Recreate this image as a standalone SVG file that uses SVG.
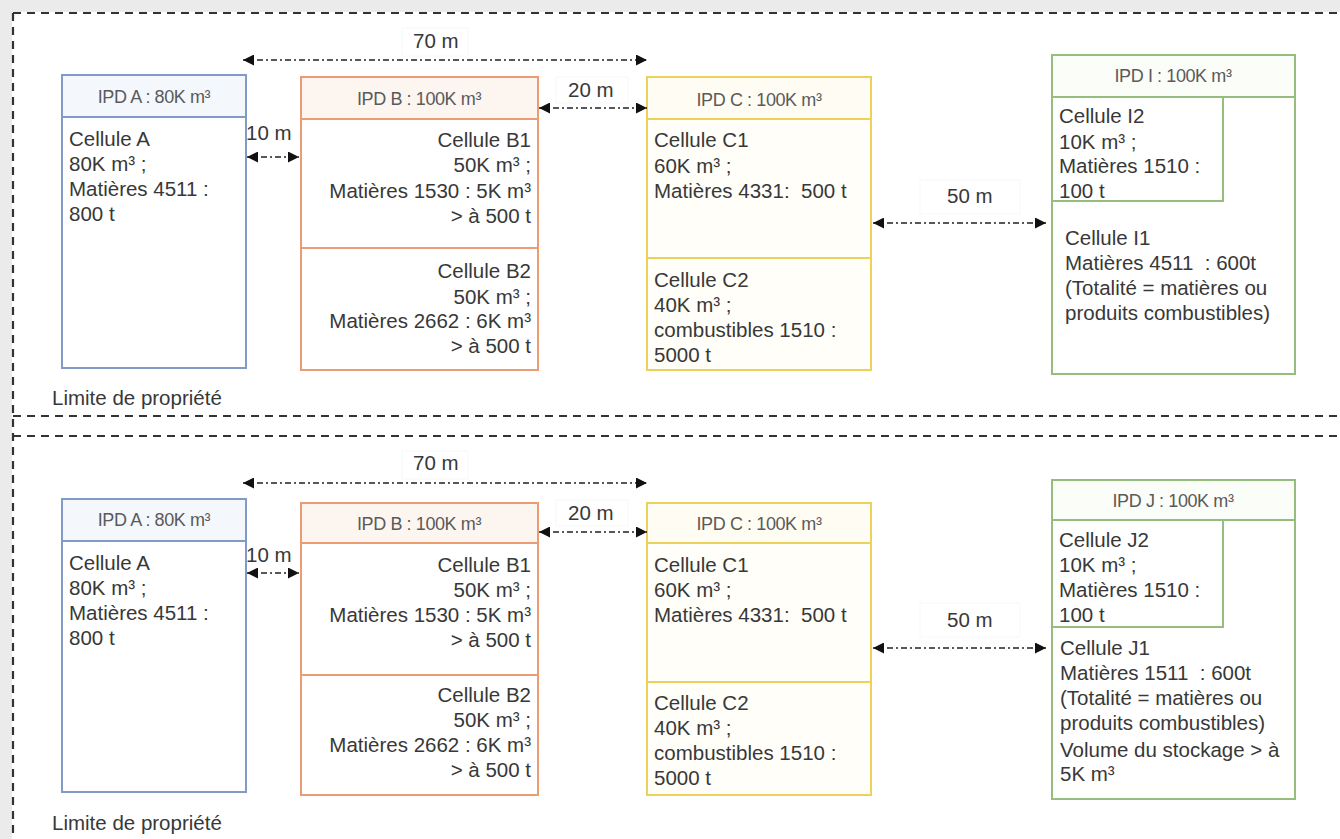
<svg xmlns="http://www.w3.org/2000/svg" width="1340" height="839" viewBox="0 0 1340 839">
<style>
.t{font-family:"Liberation Sans",Arial,sans-serif;font-size:20.5px;fill:#383838;white-space:pre}
.h{font-family:"Liberation Sans",Arial,sans-serif;font-size:18px;fill:#5a5a5a;text-anchor:middle;letter-spacing:-0.4px}
.r{text-anchor:end}
.lim{stroke:#333;stroke-width:2.2;stroke-dasharray:8 6;fill:none}
.arr{stroke:#222;stroke-width:1.7;stroke-dasharray:6 3 2 3;fill:none;marker-start:url(#ah);marker-end:url(#ah)}
.lb{fill:#fff;stroke:#f8f8f8;stroke-width:1}
.bA{stroke:#7f9bc6;stroke-width:2}
.bB{stroke:#ec9c72;stroke-width:2}
.bC{stroke:#ecd25a;stroke-width:2}
.bI{stroke:#95bd7d;stroke-width:2}
</style>
<defs>
<marker id="ah" viewBox="0 0 10 10" refX="10" refY="5" markerWidth="12" markerHeight="11" markerUnits="userSpaceOnUse" orient="auto-start-reverse">
<path d="M0,0 L10,5 L0,10 z" fill="#111"/>
</marker>
</defs>
<rect x="0" y="0" width="1340" height="839" fill="#fff"/>
<rect x="0" y="0" width="1340" height="12" fill="#ebebeb"/>
<rect x="0" y="0" width="12" height="839" fill="#ebebeb"/>

<g id="limites">
<line class="lim" x1="13" y1="13" x2="1340" y2="13"/>
<line class="lim" x1="13" y1="13" x2="13" y2="839"/>
<line class="lim" x1="13" y1="416" x2="1340" y2="416"/>
<line class="lim" x1="13" y1="436" x2="1340" y2="436"/>
<text class="t" x="52" y="405">Limite de propriété</text>
<text class="t" x="52" y="830">Limite de propriété</text>
</g>

<!-- TOP SECTION -->
<g id="ipdA1">
<rect x="62" y="75" width="184" height="293" fill="#fff" class="bA"/>
<rect x="62" y="75" width="184" height="42" fill="#f4f7fb" class="bA"/>
<text class="h" x="154" y="103">IPD A : 80K m³</text>
<text class="t" x="69" y="146">Cellule A</text>
<text class="t" x="69" y="171">80K m³ ;</text>
<text class="t" x="69" y="196">Matières 4511 :</text>
<text class="t" x="69" y="221">800 t</text>
</g>
<g id="ipdB1">
<rect x="301" y="77" width="237" height="293" fill="#fff" class="bB"/>
<rect x="301" y="77" width="237" height="42" fill="#fdf5f0" class="bB"/>
<line x1="301" y1="248" x2="538" y2="248" class="bB"/>
<text class="h" x="419" y="105">IPD B : 100K m³</text>
<text class="t r" x="531" y="147">Cellule B1</text>
<text class="t r" x="531" y="172">50K m³ ;</text>
<text class="t r" x="531" y="198">Matières 1530 : 5K m³</text>
<text class="t r" x="531" y="223">&gt; à 500 t</text>
<text class="t r" x="531" y="278">Cellule B2</text>
<text class="t r" x="531" y="304">50K m³ ;</text>
<text class="t r" x="531" y="328">Matières 2662 : 6K m³</text>
<text class="t r" x="531" y="353">&gt; à 500 t</text>
</g>
<g id="ipdC1">
<rect x="647" y="77" width="224" height="293" fill="#fffef8" class="bC"/>
<rect x="647" y="77" width="224" height="42" fill="#fffdf3" class="bC"/>
<line x1="647" y1="258" x2="871" y2="258" class="bC"/>
<text class="h" x="759" y="106">IPD C : 100K m³</text>
<text class="t" x="654" y="147">Cellule C1</text>
<text class="t" x="654" y="173">60K m³ ;</text>
<text class="t" x="654" y="198">Matières 4331:  500 t</text>
<text class="t" x="654" y="287">Cellule C2</text>
<text class="t" x="654" y="312">40K m³ ;</text>
<text class="t" x="654" y="337">combustibles 1510 :</text>
<text class="t" x="654" y="362">5000 t</text>
</g>
<g id="ipdI">
<rect x="1052" y="55" width="243" height="319" fill="#fff" class="bI"/>
<rect x="1052" y="55" width="243" height="42" fill="#fbfdf9" class="bI"/>
<rect x="1052" y="97" width="171" height="104" fill="#fff" class="bI"/>
<text class="h" x="1173" y="82">IPD I : 100K m³</text>
<text class="t" x="1059" y="123">Cellule I2</text>
<text class="t" x="1059" y="149">10K m³ ;</text>
<text class="t" x="1059" y="173">Matières 1510 :</text>
<text class="t" x="1059" y="198">100 t</text>
<text class="t" x="1065" y="245">Cellule I1</text>
<text class="t" x="1065" y="270">Matières 4511  : 600t</text>
<text class="t" x="1065" y="295">(Totalité = matières ou</text>
<text class="t" x="1065" y="320">produits combustibles)</text>
</g>

<!-- BOTTOM SECTION -->
<g id="ipdA2">
<rect x="62" y="499" width="184" height="293" fill="#fff" class="bA"/>
<rect x="62" y="499" width="184" height="42" fill="#f4f7fb" class="bA"/>
<text class="h" x="154" y="526">IPD A : 80K m³</text>
<text class="t" x="69" y="570">Cellule A</text>
<text class="t" x="69" y="595">80K m³ ;</text>
<text class="t" x="69" y="620">Matières 4511 :</text>
<text class="t" x="69" y="645">800 t</text>
</g>
<g id="ipdB2">
<rect x="301" y="503" width="237" height="292" fill="#fff" class="bB"/>
<rect x="301" y="503" width="237" height="40" fill="#fdf5f0" class="bB"/>
<line x1="301" y1="675" x2="538" y2="675" class="bB"/>
<text class="h" x="419" y="530">IPD B : 100K m³</text>
<text class="t r" x="531" y="572">Cellule B1</text>
<text class="t r" x="531" y="597">50K m³ ;</text>
<text class="t r" x="531" y="622">Matières 1530 : 5K m³</text>
<text class="t r" x="531" y="647">&gt; à 500 t</text>
<text class="t r" x="531" y="702">Cellule B2</text>
<text class="t r" x="531" y="727">50K m³ ;</text>
<text class="t r" x="531" y="752">Matières 2662 : 6K m³</text>
<text class="t r" x="531" y="777">&gt; à 500 t</text>
</g>
<g id="ipdC2">
<rect x="647" y="503" width="224" height="292" fill="#fffef8" class="bC"/>
<rect x="647" y="503" width="224" height="40" fill="#fffdf3" class="bC"/>
<line x1="647" y1="682" x2="871" y2="682" class="bC"/>
<text class="h" x="759" y="530">IPD C : 100K m³</text>
<text class="t" x="654" y="572">Cellule C1</text>
<text class="t" x="654" y="597">60K m³ ;</text>
<text class="t" x="654" y="622">Matières 4331:  500 t</text>
<text class="t" x="654" y="710">Cellule C2</text>
<text class="t" x="654" y="735">40K m³ ;</text>
<text class="t" x="654" y="760">combustibles 1510 :</text>
<text class="t" x="654" y="785">5000 t</text>
</g>
<g id="ipdJ">
<rect x="1052" y="480" width="243" height="319" fill="#fff" class="bI"/>
<rect x="1052" y="480" width="243" height="40" fill="#fbfdf9" class="bI"/>
<rect x="1052" y="520" width="171" height="107" fill="#fff" class="bI"/>
<text class="h" x="1173" y="507">IPD J : 100K m³</text>
<text class="t" x="1059" y="547">Cellule J2</text>
<text class="t" x="1059" y="572">10K m³ ;</text>
<text class="t" x="1059" y="597">Matières 1510 :</text>
<text class="t" x="1059" y="622">100 t</text>
<text class="t" x="1060" y="655">Cellule J1</text>
<text class="t" x="1060" y="680">Matières 1511  : 600t</text>
<text class="t" x="1060" y="705">(Totalité = matières ou</text>
<text class="t" x="1060" y="730">produits combustibles)</text>
<text class="t" x="1060" y="757">Volume du stockage &gt; à</text>
<text class="t" x="1060" y="781">5K m³</text>
</g>

<g id="connectors">
<rect class="lb" x="402" y="28" width="66" height="28"/>
<text class="t" x="413" y="48">70 m</text>
<line class="arr" x1="243" y1="60" x2="647" y2="60"/>
<rect class="lb" x="556" y="77" width="72" height="26"/>
<text class="t" x="568" y="97">20 m</text>
<line class="arr" x1="539" y1="108" x2="647" y2="108"/>
<text class="t" x="246" y="140">10 m</text>
<line class="arr" x1="247" y1="157" x2="299" y2="157"/>
<rect class="lb" x="920" y="180" width="100" height="34"/>
<text class="t" x="947" y="203">50 m</text>
<line class="arr" x1="873" y1="223" x2="1046" y2="223"/>

<rect class="lb" x="402" y="451" width="66" height="28"/>
<text class="t" x="413" y="470">70 m</text>
<line class="arr" x1="243" y1="483" x2="647" y2="483"/>
<rect class="lb" x="556" y="500" width="72" height="26"/>
<text class="t" x="568" y="520">20 m</text>
<line class="arr" x1="539" y1="532" x2="647" y2="532"/>
<text class="t" x="246" y="562">10 m</text>
<line class="arr" x1="247" y1="573" x2="299" y2="573"/>
<rect class="lb" x="920" y="603" width="100" height="34"/>
<text class="t" x="947" y="627">50 m</text>
<line class="arr" x1="873" y1="648" x2="1046" y2="648"/>
</g>
</svg>
